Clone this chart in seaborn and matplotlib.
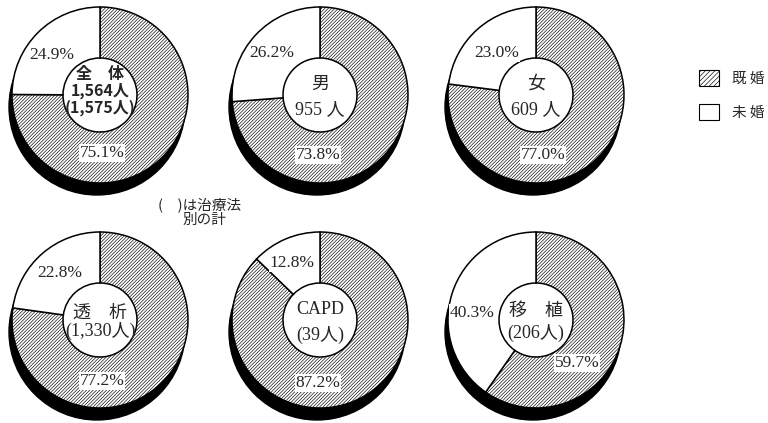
import matplotlib
matplotlib.use("Agg")
import matplotlib.pyplot as plt
import seaborn as sns
from matplotlib.patches import Circle, Patch

# ---- data -------------------------------------------------------------
groups = ["全体", "男", "女", "透析", "CAPD", "移植"]
married = [75.1, 73.8, 77.0, 77.2, 87.2, 59.7]      # 既婚 (%)
unmarried = [24.9, 26.2, 23.0, 22.8, 12.8, 40.3]    # 未婚 (%)
center_titles = ["全　体", "男", "女", "透　析", "CAPD", "移　植"]
center_counts = ["1,564人\n(1,575人)", "955 人", "609 人", "(1,330人)", "(39人)", "(206人)"]
legend_labels = ["既 婚", "未 婚"]
note_lines = ["(　)は治療法", "別の計"]

# ---- layout (pixels, y measured from the top) -------------------------
W, H = 768, 423
centers = [(100, 95), (320, 95), (536, 95), (100, 320), (320, 320), (536, 320)]
R_OUT, R_IN = 88, 37
SHADOW = (-3, 12)
married_lab = [(2, 58), (-2, 60), (7, 60), (2, 61), (-2, 63), (41, 43)]
unmarried_lab = [(-48, -40), (-48, -42), (-39, -42), (-40, -47), (-28, -57), (-64, -7)]
title_gap = [0, 13, 13, 9, 13, 11]

sns.set_theme(style="white")
plt.rcParams["font.family"] = ["Liberation Serif", "Noto Sans CJK JP", "DejaVu Sans"]
plt.rcParams["hatch.linewidth"] = 0.45

fig = plt.figure(figsize=(W / 100, H / 100), dpi=100)
ax = fig.add_axes([0, 0, 1, 1])

HATCH = "/" * 10

for i, g in enumerate(groups):
    cx, cy = centers[i]
    cyd = H - cy
    # solid black side of the disc
    ax.add_patch(Circle((cx + SHADOW[0], cyd - SHADOW[1]), R_OUT,
                        facecolor="black", edgecolor="black", zorder=1))
    wedges, _ = ax.pie([married[i], unmarried[i]],
                       colors=["white", "white"], hatch=[HATCH, ""],
                       startangle=90, counterclock=False,
                       radius=R_OUT, center=(cx, cyd), frame=True,
                       wedgeprops=dict(width=R_OUT - R_IN, edgecolor="black",
                                       linewidth=1.1))
    for w in wedges:
        w.set_zorder(3)
    ax.add_patch(Circle((cx, cyd), R_IN, facecolor="white", edgecolor="none", zorder=2))

    # percentage labels
    mx, my = married_lab[i]
    ax.text(cx + mx, cyd - my, f"{married[i]:.1f}%", ha="center", va="center",
            fontsize=12.5, zorder=5,
            bbox=dict(facecolor="white", edgecolor="none", pad=0.6))
    ux, uy = unmarried_lab[i]
    ax.text(cx + ux, cyd - uy, f"{unmarried[i]:.1f}%", ha="center", va="center",
            fontsize=12.5, zorder=5,
            bbox=dict(facecolor="white", edgecolor="none", pad=0.6))

    # centre caption
    if i == 0:
        ax.text(cx, cyd + 4, f"{center_titles[i]}\n{center_counts[i]}",
                ha="center", va="center", fontsize=11.5, fontweight="bold",
                family=["Noto Sans CJK JP"], linespacing=1.05, zorder=5)
    else:
        gap = title_gap[i]
        ax.text(cx, cyd - 2 + gap, center_titles[i], ha="center", va="center",
                fontsize=13, zorder=5)
        ax.text(cx, cyd - 2 - gap, center_counts[i], ha="center", va="center",
                fontsize=13, zorder=5)

# note under the top row
ax.text(158, H - 205, note_lines[0], ha="left", va="center", fontsize=10.5,
        family=["Noto Sans CJK JP"])
ax.text(183, H - 220, note_lines[1], ha="left", va="center", fontsize=10.5,
        family=["Noto Sans CJK JP"])

handles = [Patch(facecolor="white", edgecolor="black", linewidth=0.8, hatch="/" * 7,
                 label=legend_labels[0]),
           Patch(facecolor="white", edgecolor="black", linewidth=0.8,
                 label=legend_labels[1])]
ax.legend(handles=handles, loc="upper left", bbox_to_anchor=(687 / W, 1 - 58 / H),
          frameon=False, handlelength=1.4, handleheight=1.3,
          labelspacing=1.25, handletextpad=0.9, borderpad=0.3,
          prop={"family": ["Noto Sans CJK JP"], "size": 10.5})

ax.set_xlim(0, W)
ax.set_ylim(0, H)
ax.set_aspect("equal")
ax.axis("off")

fig.savefig("out.png", dpi=100, facecolor="white")
